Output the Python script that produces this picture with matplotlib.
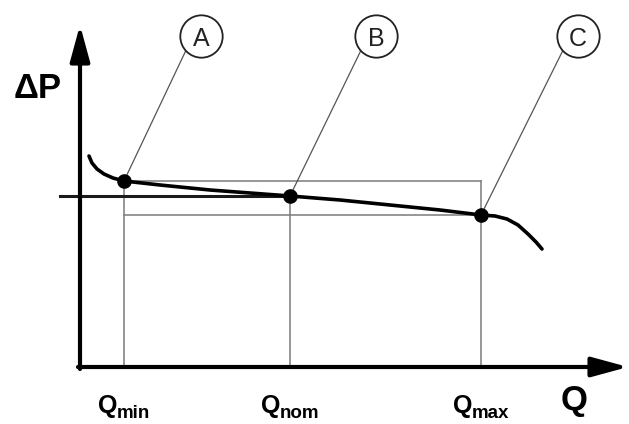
import matplotlib.pyplot as plt
from matplotlib.transforms import offset_copy

plt.rcParams['font.family'] = ['Liberation Sans', 'DejaVu Sans']

# pump curve (Q, dP in schematic units)
curve_q = [9, 12, 17, 24, 33, 44, 80, 130, 170, 210, 260, 310, 360, 401,
           415, 427, 438, 448, 456, 462]
curve_dp = [211, 204, 198, 193, 189, 186, 182, 177, 174, 171, 167, 162, 157, 152,
            151, 148, 142, 133, 125, 118]

# operating points A, B, C
op_labels = ['A', 'B', 'C']
op_q = [44, 210, 401]
op_dp = [186, 171, 152]
q_subs = ['min', 'nom', 'max']

fig = plt.figure(figsize=(6.29, 4.24), dpi=100)
ax = fig.add_axes([0, 0, 1, 1])
ax.set_xlim(-80, 549)
ax.set_ylim(-57, 367)
ax.axis('off')

thin = dict(color='#7a7a7a', lw=1.1, zorder=1)
q_min, q_nom, q_max = op_q
dp_a, dp_b, dp_c = op_dp

# working-range box and drop lines
ax.plot([q_min, q_max], [dp_a, dp_a], **thin)
ax.plot([q_min, q_max], [dp_c, dp_c], **thin)
ax.plot([q_min, q_min], [0, dp_a], **thin)
ax.plot([q_max, q_max], [0, dp_a], **thin)
ax.plot([q_nom, q_nom], [0, dp_b], **thin)

# nominal pressure line
ax.plot([-20, q_nom], [dp_b, dp_b], color='#1a1a1a', lw=2.2, zorder=2)

# axes with arrows
arrow = dict(arrowstyle='-|>,head_length=2.2,head_width=0.6', lw=3,
             color='black', mutation_scale=10, shrinkA=0, shrinkB=0)
ax.annotate('', xy=(548, 0), xytext=(-2, 0), arrowprops=arrow, zorder=3)
ax.annotate('', xy=(0, 342), xytext=(0, -2), arrowprops=arrow, zorder=3)

# curve
ax.plot(curve_q, curve_dp, color='black', lw=2.6, solid_capstyle='round', zorder=4)

# leader lines and bubbles
bubble_y = 331
bubble_dx = [77, 86, 97]
for lab, q, dp, dx in zip(op_labels, op_q, op_dp, bubble_dx):
    bx = q + dx
    ex, ey = bx - 21 * 0.72, bubble_y - 21 * 0.69
    ax.plot([q, ex], [dp, ey], color='#555555', lw=0.9, zorder=2)
    ax.plot(bx, bubble_y, marker='o', ms=30.5, mfc='white', mec='#222222',
            mew=1.3, zorder=5)
    ax.text(bx, bubble_y, lab, fontsize=18, ha='center', va='center_baseline',
            color='#222222', zorder=6)

ax.plot(op_q, op_dp, 'o', color='black', ms=9.5, zorder=6)

# Q labels with subscripts, centred under the drop lines
renderer = fig.canvas.get_renderer()
for q, sub in zip(op_q, q_subs):
    t1 = ax.text(q, -46, 'Q', fontsize=18, fontweight='bold', ha='left', va='baseline')
    t2 = ax.text(q, -46, sub, fontsize=13.5, fontweight='bold', ha='left', va='baseline')
    w1 = t1.get_window_extent(renderer).width
    w2 = t2.get_window_extent(renderer).width
    total = w1 + w2
    # pixel offsets -> points (dpi 100)
    t1.set_transform(offset_copy(ax.transData, fig=fig, x=-total / 2 * 0.72, y=0,
                                 units='points'))
    t2.set_transform(offset_copy(ax.transData, fig=fig, x=(w1 - total / 2) * 0.72,
                                 y=-5 * 0.72, units='points'))

ax.text(-42, 269, 'ΔP', fontsize=25, fontweight='bold', ha='center', va='baseline')
ax.text(494, -43, 'Q', fontsize=25, fontweight='bold', ha='center', va='baseline')

fig.savefig('out.png', dpi=100)
